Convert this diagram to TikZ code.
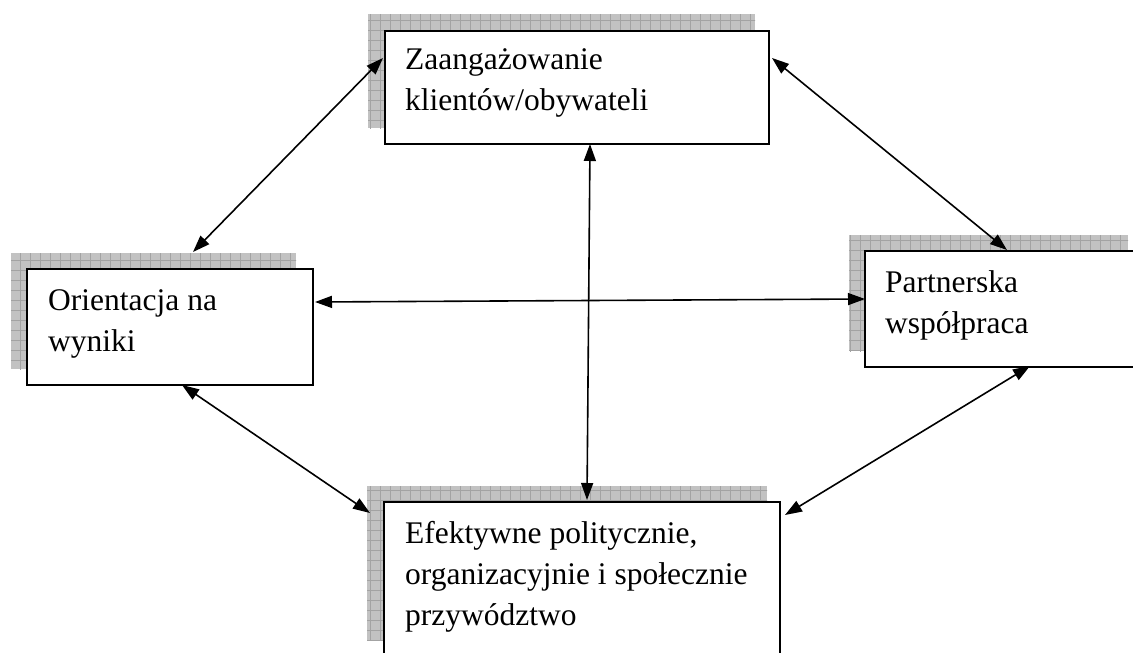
\documentclass[tikz,border=0pt]{standalone}
\usepackage{fontspec}
\setmainfont{Liberation Serif}
\usetikzlibrary{arrows.meta,positioning}
\tikzset{
  box/.style={draw=black, line width=2pt, fill=white, anchor=north west, inner sep=0pt, outer sep=0pt},
  txt/.style={anchor=north west, inner sep=0pt, align=left, font=\fontsize{31.5}{41}\selectfont},
  shadowfill/.style={fill=black!24},
  gridln/.style={draw=black!36, line width=0.5pt},
  link/.style={line width=1.6pt, {Triangle[length=17pt,width=12pt]}-{Triangle[length=17pt,width=12pt]}},
}
\newcommand{\shadowbox}[4]{%
  \fill[shadowfill] (#1,#2) rectangle (#3,#4);
  \begin{scope}
    \clip (#1,#2) rectangle (#3,#4);
    \foreach \gx in {0,10,...,1140} {\draw[gridln] (\gx,0) -- (\gx,660);}
    \foreach \gy in {0,10,...,660} {\draw[gridln] (0,\gy) -- (1140,\gy);}
  \end{scope}}
\begin{document}
\begin{tikzpicture}[x=1pt,y=-1pt]
\useasboundingbox (0,0) rectangle (1133,653);
\clip (0,0) rectangle (1133,653);
% shadows
\shadowbox{368}{14}{755}{128}
\shadowbox{11}{253}{296}{369}
\shadowbox{849}{235}{1128}{351}
\shadowbox{367}{486}{767}{640}
% boxes
\node[box, minimum width=384pt, minimum height=113pt] (top) at (385,31) {};
\node[box, minimum width=286pt, minimum height=116pt] (left) at (27,269) {};
\node[box, minimum width=300pt, minimum height=116pt] (right) at (865,251) {};
\node[box, minimum width=396pt, minimum height=200pt] (bottom) at (384,502) {};
% texts
\node[txt] (topT) at (405,48) {Zaangażowanie\\klientów/obywateli};
\node[txt] (leftT) at (48,289) {Orientacja na\\wyniki};
\node[txt] (rightT) at (885,270) {Partnerska\\współpraca};
\node[txt] (bottomT) at (405,521) {Efektywne politycznie,\\organizacyjnie i społecznie\\przywództwo};
% connectors
\draw[link] ([xshift=-2pt,yshift=-27pt]top.north west) -- ([xshift=166pt,yshift=17pt]left.north west);
\draw[link] ([xshift=3pt,yshift=-27pt]top.north east) -- ([xshift=142pt,yshift=1pt]right.north west);
\draw[link] ([xshift=205pt]top.south west) -- ([xshift=203pt,yshift=2pt]bottom.north west);
\draw[link] ([xshift=2pt,yshift=-33pt]left.north east) -- ([yshift=-48pt]right.north west);
\draw[link] ([xshift=155pt]left.south west) -- ([xshift=-14pt,yshift=-11pt]bottom.north west);
\draw[link] ([xshift=165pt,yshift=1pt]right.south west) -- ([xshift=5pt,yshift=-13pt]bottom.north east);
\end{tikzpicture}
\end{document}
